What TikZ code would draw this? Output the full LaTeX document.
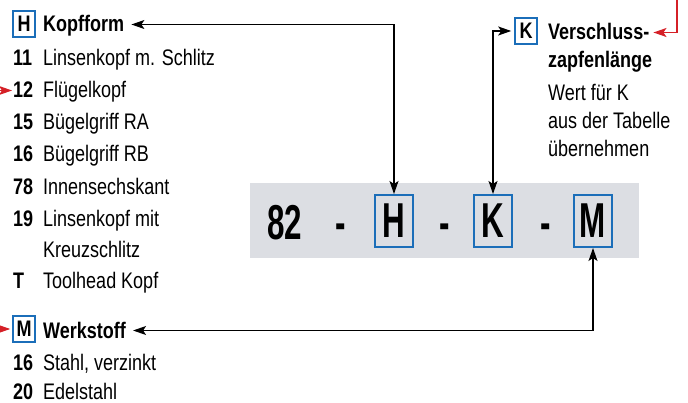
\documentclass[tikz,border=0pt]{standalone}
\usepackage{fontspec}
\setmainfont{Liberation Sans}[FakeStretch=0.8]
\newfontfamily\codefont{Liberation Sans}[FakeStretch=0.64]
\usepackage{xcolor}
\usetikzlibrary{arrows.meta,positioning}

\definecolor{keyblue}{RGB}{27,110,185}
\definecolor{markred}{RGB}{213,32,39}
\definecolor{codegray}{RGB}{220,222,227}
\newcommand{\nr}[1]{\makebox[30pt][l]{\bfseries #1}}

\begin{document}
\begin{tikzpicture}[
    x=1pt, y=-1pt,
    >={Stealth[length=13pt, width=9pt, inset=3pt]},
    entry/.style={anchor=base west, inner sep=0pt, text height=15pt, text depth=0pt, font=\fontsize{22.5}{26}\selectfont},
    title/.style={entry, font=\fontsize{22.5}{26}\selectfont\bfseries},
    keybox/.style={rectangle, draw=keyblue, line width=1.6pt, inner sep=0pt, minimum width=22pt, minimum height=26pt, font=\fontsize{22.5}{26}\selectfont\bfseries},
    codebox/.style={rectangle, draw=keyblue, line width=2pt, inner sep=0pt, minimum width=38pt, minimum height=52pt, font=\codefont\bfseries\fontsize{49}{50}\selectfont},
    codetext/.style={anchor=base, inner sep=0pt, font=\codefont\bfseries\fontsize{49}{50}\selectfont},
    codebg/.style={rectangle, fill=codegray, inner sep=0pt, minimum width=389pt, minimum height=75pt},
    pointer/.style={line width=1.2pt, draw=black},
    redpointer/.style={->, line width=1.2pt, draw=markred}
]
    \useasboundingbox (0,0) rectangle (688,403);

    % Kopfform
    \node [keybox] (hkey) at (24,24) {H};
    \node [title] (htitle) at (43,32) {Kopfform};
    \node [entry] (l11) at (13,66) {\nr{11}Linsenkopf m. Schlitz};
    \node [entry] (l12) at (13,98) {\nr{12}Flügelkopf};
    \node [entry] (l15) at (13,130) {\nr{15}Bügelgriff RA};
    \node [entry] (l16) at (13,162) {\nr{16}Bügelgriff RB};
    \node [entry] (l78) at (13,195) {\nr{78}Innensechskant};
    \node [entry] (l19) at (13,227) {\nr{19}Linsenkopf mit};
    \node [entry] (l19b) at (43,258) {Kreuzschlitz};
    \node [entry] (lT) at (13,289) {\nr{T}Toolhead Kopf};

    % Werkstoff
    \node [keybox] (mkey) at (24,329) {M};
    \node [title] (mtitle) at (43,338) {Werkstoff};
    \node [entry] (m16) at (13,370) {\nr{16}Stahl, verzinkt};
    \node [entry] (m20) at (13,399) {\nr{20}Edelstahl};

    % Verschlusszapfenlaenge
    \node [keybox] (kkey) at (526,31) {K};
    \node [title] (ktitle) at (548,40) {Verschluss-};
    \node [title] (ktitle2) at (548,68) {zapfenlänge};
    \node [entry] (k1) at (548,101) {Wert für K};
    \node [entry] (k2) at (548,129) {aus der Tabelle};
    \node [entry] (k3) at (548,157) {übernehmen};

    % Bestellschluessel
    \node [codebg] (code) at (444.5,220.5) {};
    \node [codetext] (c82) at (285,240) {82};
    \node [codetext] (dash1) at (341,240) {-};
    \node [codebox] (codeH) at (394,221) {H};
    \node [codetext] (dash2) at (445,240) {-};
    \node [codebox] (codeK) at (493,221) {K};
    \node [codetext] (dash3) at (546,240) {-};
    \node [codebox] (codeM) at (593,221) {M};

    \draw [pointer, <->] ([xshift=7pt]htitle.east) -| (codeH.north);
    \draw [pointer, <->] (codeK.north) |- ([xshift=-3pt]kkey.west);
    \draw [pointer, <->] ([xshift=7pt]mtitle.east) -| (codeM.south);

    \coordinate (inK) at (677,0);
    \coordinate (in12) at (0,90.5);
    \coordinate (inM) at (0,329);
    \draw [redpointer] (inK) |- ([xshift=4pt]ktitle.east);
    \draw [redpointer] (in12) -- ([xshift=-1pt]l12.west);
    \draw [redpointer] (inM) -- ([xshift=-2pt]mkey.west);
\end{tikzpicture}
\end{document}
